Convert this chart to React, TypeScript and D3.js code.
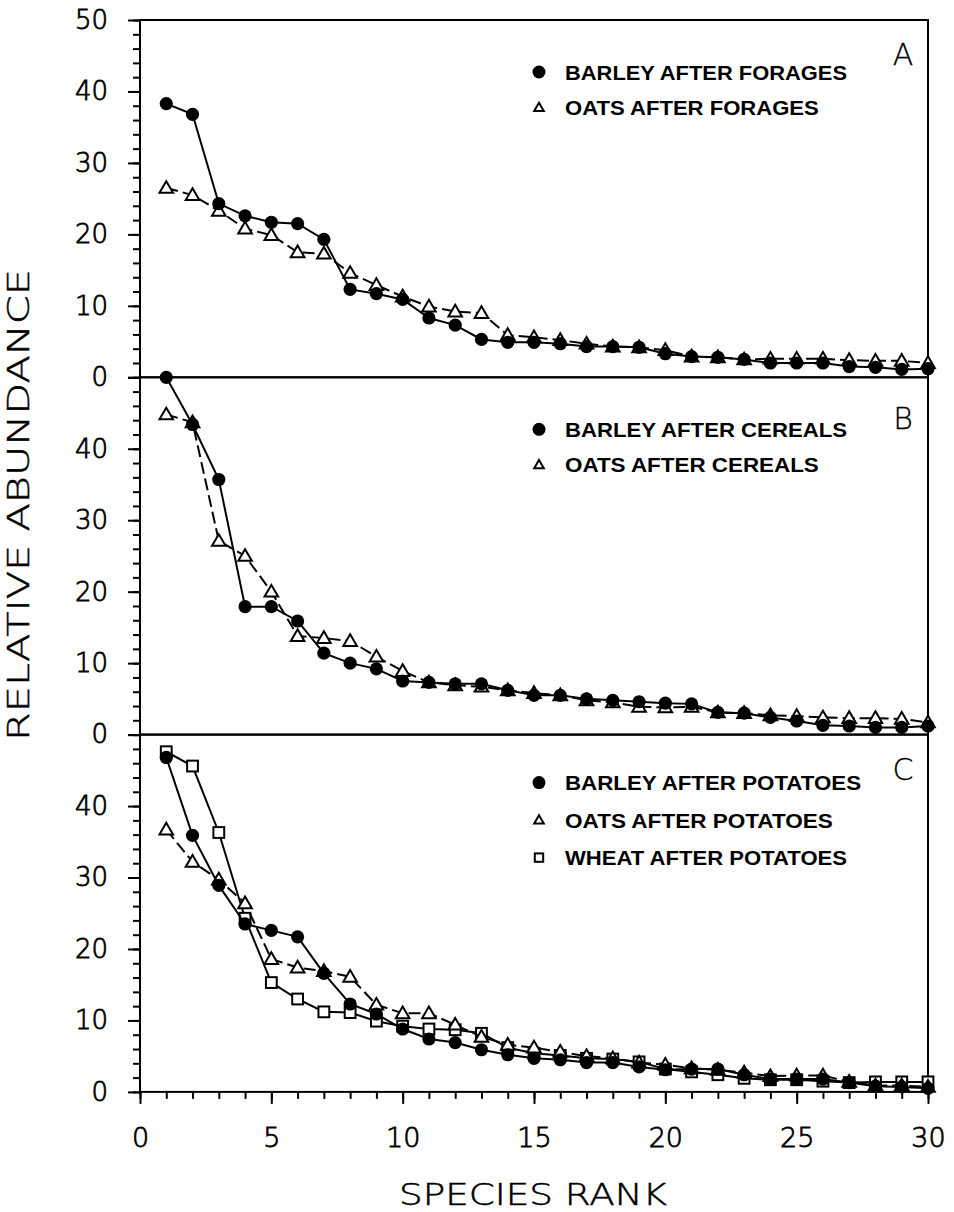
import React, { useEffect, useRef } from 'react';
import * as d3 from 'd3';

// species rank (x)
const ranks = [1, 2, 3, 4, 5, 6, 7, 8, 9, 10, 11, 12, 13, 14, 15, 16, 17, 18, 19, 20, 21, 22, 23, 24, 25, 26, 27, 28, 29, 30];

// panel A
const barleyForages = [38.3, 36.8, 24.3, 22.6, 21.7, 21.5, 19.3, 12.3, 11.7, 10.9, 8.3, 7.3, 5.3, 4.9, 4.9, 4.7, 4.3, 4.3, 4.2, 3.3, 2.9, 2.8, 2.5, 2.0, 2.0, 2.0, 1.5, 1.4, 1.1, 1.2];
const oatsForages = [26.5, 25.5, 23.3, 20.8, 19.9, 17.5, 17.3, 14.6, 12.9, 11.3, 9.9, 9.2, 9.0, 5.9, 5.6, 5.2, 4.7, 4.3, 4.2, 3.8, 2.9, 2.8, 2.5, 2.6, 2.6, 2.6, 2.4, 2.3, 2.3, 2.0];

// panel B
const barleyCereals = [50.0, 43.4, 35.7, 17.9, 17.9, 15.9, 11.4, 10.0, 9.2, 7.5, 7.3, 7.1, 7.1, 6.2, 5.5, 5.5, 5.0, 4.8, 4.6, 4.4, 4.3, 3.1, 3.0, 2.4, 1.9, 1.3, 1.2, 1.0, 1.0, 1.2];
const oatsCereals = [44.8, 43.7, 27.1, 25.0, 20.0, 13.8, 13.5, 13.1, 10.9, 8.9, 7.3, 6.9, 6.7, 6.2, 5.8, 5.5, 4.8, 4.5, 3.9, 3.8, 3.9, 3.1, 3.0, 2.7, 2.6, 2.4, 2.3, 2.3, 2.2, 1.7];

// panel C
const barleyPotatoes = [46.8, 35.9, 28.9, 23.5, 22.6, 21.7, 16.6, 12.3, 10.9, 8.8, 7.4, 6.9, 5.9, 5.2, 4.7, 4.5, 4.1, 4.1, 3.5, 3.1, 3.2, 3.2, 2.4, 1.8, 1.8, 1.8, 1.3, 0.8, 0.7, 0.5];
const oatsPotatoes = [36.7, 32.2, 29.7, 26.4, 18.6, 17.4, 16.9, 16.1, 12.2, 11.0, 11.0, 9.4, 7.7, 6.6, 6.2, 5.6, 5.0, 4.7, 4.1, 3.8, 3.3, 3.1, 2.7, 2.2, 2.3, 2.3, 1.4, 0.9, 0.9, 0.7];
const wheatPotatoes = [47.6, 45.6, 36.3, 24.3, 15.3, 13.0, 11.2, 11.1, 9.9, 9.2, 8.8, 8.7, 8.2, 6.2, 5.4, 5.1, 4.7, 4.6, 4.2, 3.2, 2.8, 2.4, 1.9, 1.7, 1.7, 1.5, 1.3, 1.4, 1.4, 1.4];

const xTicks = [0, 5, 10, 15, 20, 25, 30];
const yTicksTop = [0, 10, 20, 30, 40, 50];
const yTicksLower = [0, 10, 20, 30, 40];

type Shape = 'circle' | 'triangle' | 'square';
type Series = { name: string; values: number[]; shape: Shape; dashed: boolean };
type Panel = { letter: string; series: Series[]; yLabels: number[] };

const panels: Panel[] = [
  {
    letter: 'A',
    yLabels: yTicksTop,
    series: [
      { name: 'BARLEY AFTER FORAGES', values: barleyForages, shape: 'circle', dashed: false },
      { name: 'OATS AFTER FORAGES', values: oatsForages, shape: 'triangle', dashed: true },
    ],
  },
  {
    letter: 'B',
    yLabels: yTicksLower,
    series: [
      { name: 'BARLEY AFTER CEREALS', values: barleyCereals, shape: 'circle', dashed: false },
      { name: 'OATS AFTER CEREALS', values: oatsCereals, shape: 'triangle', dashed: true },
    ],
  },
  {
    letter: 'C',
    yLabels: yTicksLower,
    series: [
      { name: 'BARLEY AFTER POTATOES', values: barleyPotatoes, shape: 'circle', dashed: false },
      { name: 'OATS AFTER POTATOES', values: oatsPotatoes, shape: 'triangle', dashed: true },
      { name: 'WHEAT AFTER POTATOES', values: wheatPotatoes, shape: 'square', dashed: false },
    ],
  },
];

const drawMarker = (sel: d3.Selection<SVGGElement, unknown, null, undefined>, shape: Shape, cx: number, cy: number, small = false) => {
  if (shape === 'circle') {
    sel.append('circle').attr('cx', cx).attr('cy', cy).attr('r', small ? 6.5 : 6.6).attr('fill', '#000');
  } else if (shape === 'triangle') {
    const s = small ? 4.8 : 6.8;
    sel.append('path')
      .attr('d', `M${cx},${cy - s}L${cx + s},${cy + s * 0.72}L${cx - s},${cy + s * 0.72}Z`)
      .attr('fill', '#fff').attr('stroke', '#000').attr('stroke-width', 2).attr('stroke-linejoin', 'miter');
  } else {
    const s = small ? 4.2 : 5.4;
    sel.append('rect')
      .attr('x', cx - s).attr('y', cy - s).attr('width', s * 2).attr('height', s * 2)
      .attr('fill', '#fff').attr('stroke', '#000').attr('stroke-width', 2);
  }
};

const App: React.FC = () => {
  const svgRef = useRef<SVGSVGElement>(null);
  const width = 954;
  const height = 1212;

  useEffect(() => {
    const svg = d3.select(svgRef.current);
    svg.selectAll('*').remove();

    const left = 140;
    const right = 928;
    const top = 20;
    const panelH = 357.3;

    const x = d3.scaleLinear().domain([0, 30]).range([left, right]);
    const numFont = '"DejaVu Sans", sans-serif';

    // thin face thickened a little with a stroke
    const thinText = (sel: d3.Selection<any, any, any, any>, size: number, extra = 0.6) =>
      sel.style('font-family', numFont)
        .style('font-size', `${size}px`)
        .style('font-weight', 200)
        .attr('fill', '#000')
        .attr('stroke', '#000')
        .attr('stroke-width', extra);

    panels.forEach((p, i) => {
      const y0 = top + i * panelH;
      const y = d3.scaleLinear().domain([0, 50]).range([y0 + panelH, y0]);
      const g = svg.append('g');

      // minor y ticks, every 2
      g.append('g')
        .attr('transform', `translate(${left},0)`)
        .call(d3.axisLeft(y).tickValues(d3.range(0, 51, 2)).tickSize(7).tickSizeOuter(0).tickFormat(() => ''))
        .call(a => a.select('.domain').remove())
        .selectAll('line').attr('stroke-width', 2);

      // major y ticks + labels (B and C hide their 50)
      const ax = g.append('g')
        .attr('transform', `translate(${left},0)`)
        .call(d3.axisLeft(y).tickValues([0, 10, 20, 30, 40, 50]).tickSize(12).tickSizeOuter(0)
          .tickFormat(d => (p.yLabels.includes(+d) ? String(d) : '')));
      ax.select('.domain').remove();
      ax.selectAll('line').attr('stroke-width', 2);
      thinText(ax.selectAll('text').attr('x', -32), 26, 0.8);

      // frame
      g.append('rect')
        .attr('x', left).attr('y', y0)
        .attr('width', right - left).attr('height', panelH)
        .attr('fill', 'none').attr('stroke', '#000').attr('stroke-width', 2);

      const line = d3.line<number>().x((_, j) => x(ranks[j])).y(d => y(d));

      // barley drawn last so circles sit on top
      p.series.slice().reverse().forEach(s => {
        g.append('path')
          .datum(s.values)
          .attr('d', line)
          .attr('fill', 'none')
          .attr('stroke', '#000')
          .attr('stroke-width', 2)
          .attr('stroke-dasharray', s.dashed ? '12,5' : null);
        const mg = g.append('g');
        s.values.forEach((v, j) => drawMarker(mg, s.shape, x(ranks[j]), y(v)));
      });

      // legend
      const legY = y0 + (i === 2 ? 48 : 52);
      const rowGap = i === 2 ? 37.5 : 35.5;
      p.series.forEach((s, k) => {
        const ly = legY + k * rowGap;
        const lg = svg.append('g');
        drawMarker(lg, s.shape, 539, ly, true);
        lg.append('text')
          .attr('x', 565)
          .attr('y', ly + 7.5)
          .attr('textLength', s.name.length * 14.1)
          .attr('lengthAdjust', 'spacingAndGlyphs')
          .style('font-family', '"Liberation Sans", Arial, sans-serif')
          .style('font-size', '20px')
          .style('font-weight', 700)
          .text(s.name);
      });

      thinText(
        svg.append('text')
          .attr('x', 903)
          .attr('y', y0 + (i === 1 ? 52 : 45))
          .attr('text-anchor', 'middle')
          .text(p.letter),
        30, 0.3);
    });

    // x axis, bottom panel only
    const bottom = top + 3 * panelH;
    const xMinor = svg.append('g')
      .attr('transform', `translate(0,${bottom})`)
      .call(d3.axisBottom(x).tickValues(d3.range(0, 31, 1)).tickSize(7).tickSizeOuter(0).tickFormat(() => ''));
    xMinor.select('.domain').remove();
    xMinor.selectAll('line').attr('stroke-width', 2);

    const xAx = svg.append('g')
      .attr('transform', `translate(0,${bottom})`)
      .call(d3.axisBottom(x).tickValues(xTicks).tickSize(12).tickSizeOuter(0));
    xAx.select('.domain').remove();
    xAx.selectAll('line').attr('stroke-width', 2);
    thinText(xAx.selectAll('text').attr('y', 55).attr('dy', 0), 27, 0.8);

    thinText(
      svg.append('text')
        .attr('x', 533)
        .attr('y', 1205)
        .attr('text-anchor', 'middle')
        .attr('textLength', 268)
        .attr('lengthAdjust', 'spacingAndGlyphs')
        .text('SPECIES RANK'),
      31, 0.5);

    thinText(
      svg.append('text')
        .attr('transform', `translate(29,505) rotate(-90)`)
        .attr('text-anchor', 'middle')
        .attr('textLength', 472)
        .attr('lengthAdjust', 'spacingAndGlyphs')
        .text('RELATIVE ABUNDANCE'),
      31, 0.5);
  }, []);

  return (
    <svg
      ref={svgRef}
      width={width}
      height={height}
      style={{ position: 'absolute', left: 0, top: 0, background: '#fff' }}
    />
  );
};

export default App;
